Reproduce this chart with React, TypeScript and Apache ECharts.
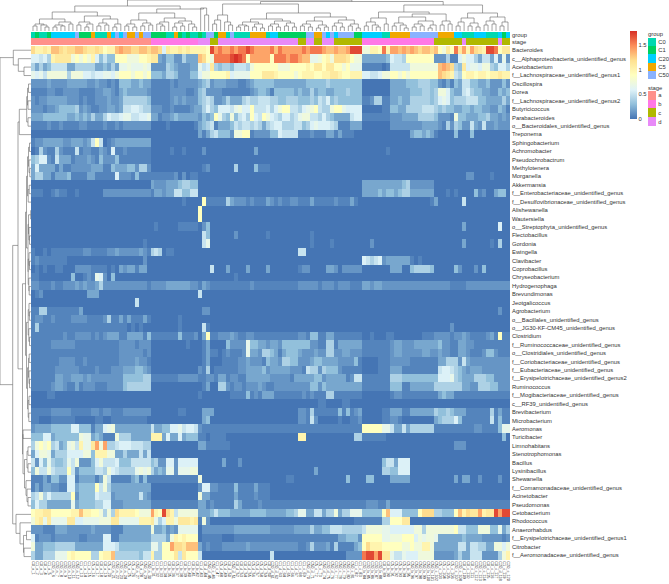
import React, { useEffect, useRef } from "react";
import * as echarts from "echarts";

const genera = [
  "Bacteroides","c__Alphaproteobacteria_unidentified_genus","Acetobacterium","f__Lachnospiraceae_unidentified_genus1","Oscillospira","Dorea","f__Lachnospiraceae_unidentified_genus2","Butyricicoccus","Parabacteroides","o__Bacteroidales_unidentified_genus","Treponema","Sphingobacterium","Achromobacter","Pseudochrobactrum","Methylotenera","Morganella","Akkermansia","f__Enterobacteriaceae_unidentified_genus","f__Desulfovibrionaceae_unidentified_genus","Alishewanella","Wautersiella","o__Streptophyta_unidentified_genus","Flectobacillus","Gordonia","Ewingella","Clavibacter","Coprobacillus","Chryseobacterium","Hydrogenophaga","Brevundimonas","Jeotgalicoccus","Agrobacterium","o__Bacillales_unidentified_genus","o__JG30-KF-CM45_unidentified_genus","Clostridium","f__Ruminococcaceae_unidentified_genus","o__Clostridiales_unidentified_genus","f__Coriobacteriaceae_unidentified_genus","f__Eubacteriaceae_unidentified_genus","f__Erysipelotrichaceae_unidentified_genus2","Ruminococcus","f__Mogibacteriaceae_unidentified_genus","c__RF39_unidentified_genus","Brevibacterium","Microbacterium","Aeromonas","Turicibacter","Limnohabitans","Stenotrophomonas","Bacillus","Lysinibacillus","Shewanella","f__Comamonadaceae_unidentified_genus","Acinetobacter","Pseudomonas","Cetobacterium","Rhodococcus","Anaerorhabdus","f__Erysipelotrichaceae_unidentified_genus1","Citrobacter","f__Aeromonadaceae_unidentified_genus",
];

// One string per genus; one character per sample (an abundance level, see levelValues), grouped in tens; "-" is ten zeros.
const abundanceRows = [
  "dbbcbeedcd deedccdcab befeeddeed eed7cbbcbc bbbbahfgff gfgghgffff gegfffffgf gggfeefeef hhh99bbagb ffefefedee dea9cagcfb fdcbhhgacc",
  "77675bcccc 9a9a9b7464 4aaa999aab cc32442253 33eda9gggg hihgafffff agggfggfee 889ab9dddc a993333334 7665aaaaaa a222511797 7536637282",
  "5353466663 3555553343 5388988898 2222543222 33867c5455 466659aaaa aa999aaaab accaccaa9a 8881111101 6666699999 99efed54c7 8879954775",
  "8786999995 9997767788 79aaa9aa9a 4443554222 44799aaaab 78888aaacc cbaaaa9abb baabbccbaa bbb7766799 aa9a9aaaaa aaedcb65ab babbabbcbb",
  "2222322223 3333223221 2144433433 1111121222 2234523332 2211234444 4333333334 4444544444 4440000000 3333444555 4421314366 4433422242",
  "1111221122 2211112233 2134333332 1111122221 1245222211 1111123443 1444443433 5344334445 4440000000 3333344455 4599743367 5443322434",
  "2122333332 2212112223 2235555554 1111123232 2245652235 3335655666 5544555444 5465745444 4441125511 3343355555 4578745556 6644333353",
  "2221223444 4523211223 3236677655 2221121111 2335754777 68977a6667 579aa66578 9a6559aa87 7770000011 4433555566 6545443344 3443322431",
  "3334444443 3434353357 6678866778 3312234333 332434a854 94675a76a9 7657756899 6657543333 6771111111 2223333555 5422219443 3344533232",
  "1111211211 1122111121 1212222222 0000100000 0134561333 4656656535 6775556645 7877765111 3330000000 2222222233 3321525422 6326223222",
  "- - - - 0031356444 299aa12222 4476666111 2111331311 1000000000 0000034434 3100004000 4000000000",
  "1223333322 333236a601 2333333333 - - - - - - - - -",
  "0152115211 1612211321 7112111111 0000010010 0002000000 0000003000 - - 0000000001 - - -",
  "4577216333 1222321422 2411111111 - - - - - - - - -",
  "3733331311 2222233311 4333442552 - 0001200000 0500004111 - - - - - -",
  "3553313334 1111331111 1722214111 1111112020 1100000000 - - - - - 0000000002 2000010000",
  "- - - 3222333455 4400000000 - - - 0003333333 3334522222 2000000000 -",
  "1110012110 0100000022 2222222222 1332336644 6600000000 - - - 0003333434 4345533333 3000101000 0412003440",
  "- - - 0000000010 000a111115 3222121113 2121122111 3111112111 3100000000 - 1300000060 -",
  "- - - - 00a0000000 - - - - - - -",
  "- - - - 00a0000000 - - - - - - -",
  "- - - 0100000111 1102400000 - - - - - 0000000030 0000000700",
  "- - - - 0006400000 0200000001 - 1000000000 - - - -",
  "- - 0000000010 - 0006800000 - - 1000010000 0000020000 - 0000000030 0000010500",
  "1001011111 1112211112 2322222321 5650110000 - - 0000000660 - - - - -",
  "1211111110 - 0000000020 - - - - - 0007656723 3333310100 - -",
  "0101001100 0222211110 1032331330 - 0000060003 0000300003 0000000122 0000332022 2220000000 3330045555 4000004200 0204000000",
  "1100000000 4001218720 4000000000 - - 0100000000 - - - - - -",
  "2211121122 2323223522 2222222221 2222333333 2213211111 1111121111 1111111222 2212221222 1113323322 2222222222 2222211112 2222222222",
  "0120000000 0000333000 - - 0060000000 - - - - - - -",
  "- - 0000006000 - - - - - - - - -",
  "1155111111 1130000000 - - 0002200000 - - - - - - 0000000200",
  "1221121111 2222111125 1131311131 0000000100 - - - - - - - -",
  "1511111111 1111111111 1111010100 0000000100 0006100000 - - - - - 0000020000 -",
  "1111111121 1222212123 3311333314 1111111411 1203a11222 3211221111 1111111221 4411331111 1110010001 1000000011 1222212232 1111231a11",
  "1111122222 2111111111 1122221222 0000000001 0001300004 2222844332 3324444444 2211551333 3331111111 2332223333 3342211332 2111111111",
  "1111111111 1111111111 1122222212 - 0001311012 1112833255 4313444322 2322552233 2221111111 2332222233 2232211332 1112442111",
  "1111111222 2112111111 1122223221 - 0001300011 1122322214 3325544222 3443333222 2410000111 2222211111 1133555263 2222222222",
  "1111112222 2211112111 2223334432 - 0021501111 1122333342 3333322216 5525444211 1110000111 3331111111 1167765432 3332222222",
  "1111113322 3332322222 2224444455 1111111222 2211221331 2211333333 2222213333 3442333331 2661111111 5554444444 4477785433 3555442222",
  "1111123321 1312221112 2224555555 - 0001300552 1221222321 1222222222 4424333333 3331111111 4441133333 3555555533 2255544222",
  "0000110000 - - - 0010000000 1111412133 3111111121 2111551111 1110000000 1221111111 1134331111 1111111111",
  "- - - - - - - 0011000011 - - - -",
  "1111122222 1111122122 1112222222 0000000110 0003330000 - 0000000221 5111111414 1230000011 3331133333 3544543331 1111151311",
  "1100011111 1000001100 1111111110 - 0003400000 - 0000000221 6200000100 1120000011 2210000000 0345557411 1111161411",
  "2333344444 7744413378 9333333333 6334477867 7621111111 1111111111 1111111111 1111111111 111aaaaa88 6336355555 5111111111 1221111488",
  "4447734444 4498834311 1955533333 bbb3733734 4411011110 - 0000000bb0 - 0551111110 - - 0000000040",
  "59a9a56348 96b88cf9f5 5677766655 - 0033111111 - - - - - 0000002220 -",
  "3799835557 777994bbb9 9335333636 - - - - - - - - -",
  "6274854458 6922247966 6744466666 4522772777 7700000030 0020000000 - - 0000000046 6377700000 - -",
  "496696555a 6244446659 7655558989 5343882888 9900000000 - - 0300000000 0000000055 4477700000 - -",
  "1113144227 7133331396 1111134141 1111111111 1190000000 - 0000110000 0000000004 0000440000 3333300000 0000003033 0020000200",
  "1313322117 734444a695 3333333333 - 0027722111 1411113111 - - - - - -",
  "5695755555 a244447666 2333333632 - 0093311111 1311112111 - - - - - -",
  "4755333333 8344445577 2223333333 1111111111 1133121111 1531111211 1111111111 1111111111 1111222113 1111111111 1111111111 1111111111",
  "abbccaaaaa bbebbaa959 5dbbbba999 fbahdb6999 9933346444 3333344443 3333445883 3663559355 88844444ae 7774444add d55444aebd ccfbcchfhh",
  "9bc8c8888c c778888999 cc88888bbb c857bb9ccc bc19200000 - - - 0111111155 aaacc00000 - -",
  "2221113332 2222232222 1113333333 9334232888 8802222222 2333333333 2222223333 5334466655 5556999988 7777779959 999999a664 4499944835",
  "7122212222 2211222277 1133333333 555539baba aa01111100 0111111111 1111111111 1111111334 442aaaaa88 999aaa7989 9833333343 3332222212",
  "9334445555 5333333377 7644444444 885aafddce ee31211122 2222322222 2222222112 5222315111 134adbbbaa aaa99a99bb 9333333663 6655339979",
  "533555888a baaaa55abb e555555466 b55aaac6ca aa60000000 - 6000000000 0000000002 222ghhfhcc 8668777999 9222223533 666222259b",
];

const levelValues = [0, 0.06, 0.13, 0.2, 0.3, 0.4, 0.5, 0.58, 0.66, 0.74, 0.89, 1.0, 1.1, 1.2, 1.3, 1.4, 1.55, 1.7, 1.78];

const groupNames = ["C0", "C1", "C20", "C5", "C50"];
const stageNames = ["a", "b", "c", "d"];
// [category index, run length] pairs, left to right
const groupRuns = [[0,1],[1,1],[0,2],[1,1],[2,6],[4,1],[1,3],[3,1],[0,3],[3,1],[2,1],[4,1],[2,1],[4,1],[3,2],[4,1],[3,1],[4,2],[1,4],[0,2],[3,1],[1,1],[0,1],[1,1],[0,2],[1,1],[0,1],[4,2],[1,1],[3,2],[0,1],[4,1],[0,4],[3,4],[0,1],[2,2],[1,7],[4,2],[3,2],[4,1],[2,1],[4,1],[2,1],[4,4],[1,2],[2,5],[0,2],[3,5],[4,7],[3,4],[2,2],[0,3],[2,3],[0,3],[2,1],[1,1],[2,1]];
const stageRuns = [[0,30],[1,12],[3,3],[2,2],[3,20],[2,2],[3,2],[2,2],[3,3],[2,7],[1,18],[2,7],[3,1],[2,8],[3,1],[2,2]];

// Dendrograms: [merge height, left, right]; 1 is a leaf.
const colTree: any = [31,
  [25,
    [19,
      [12,[7,[5,1,1],[6,1,[4,1,1]]],[9,[6,[4,1,1],[5,1,1]],[7,1,1]]],
      [15,[9,[6,1,1],[7,[4,1,1],1]],[12,[8,[5,1,1],[6,1,1]],[7,[4,1,1],1]]]],
    [22,
      [18,
        [11,[7,[5,1,1],[4,1,1]],[8,[5,1,1],[6,1,1]]],
        [13,[9,[7,1,[5,1,1]],1],[10,[8,[4,1,1],[5,1,1]],[7,1,[4,1,1]]]]],
      [23,1,[16,1,1]]]],
  [29.5,
    [27,
      [16,[11,[7,1,1],1],[9,1,[6,1,1]]],
      [18,
        [12,[9,[6,[4,1,1],[5,1,1]],[7,[4,1,1],[3,1,1]]],[10,[7,[5,1,1],[4,1,1]],[8,[5,1,1],[4,1,1]]]],
        [14,[10,[7,[5,1,1],[4,1,1]],[6,[3,1,1],[4,1,1]]],[11,[8,[5,1,1],[4,1,1]],[7,[5,1,1],[3,1,1]]]]]],
    [26,
      [19,
        [13,[9,[5,1,1],[6,1,[4,1,1]]],[7,1,1]],
        [17,
          [14,[8,[5,1,1],[6,1,[3,1,1]]],[10,[7,[4,1,1],[5,1,1]],[6,[3,1,1],1]]],
          [10,[6,1,1],[7,1,1]]]],
      [18,[13,[9,[5,1,1],1],[8,[5,1,1],[4,1,1]]],[14,[10,[6,1,1],[7,1,1]],[9,[5,1,1],1]]]]],
];
const rowTree: any = [31,
  [17.7,1,[12.7,1,[7,1,1]]],
  [18.3,
    [13,
      [11.7,[4.3,[3.5,[2.5,1,1],[3,1,1]],[3,1,1]],1],
      [8.5,
        [5.5,
          [4.5,
            [3.5,[2.5,[1.5,1,1],[2,1,[1.2,1,1]]],[2.8,[1.8,1,1],1]],
            [3,[2.5,[0.3,1,1],[2,1,[1.5,1,1]]],[2.8,[2,1,[1.5,1,1]],[2.2,1,[1.8,1,1]]]]],
          [4.5,
            [2.8,[2,1,[1.6,1,1]],[2.2,1,[1.5,1,1]]],
            [3.5,[2.5,[1.8,1,1],[2,1,[1.5,1,1]]],[2.8,[2,1,1],[2.2,1,1]]]]],
        [8,
          [8,1,1],
          [6.5,[4,[3,1,1],[3,1,1]],[5,1,[4,1,[3,1,1]]]]]]],
    [15,1,[11,1,[7.5,[4.5,1,1],[7,1,1]]]]],
];

const colorStops = ["#4575B4", "#91BFDB", "#E0F3F8", "#FFFFBF", "#FEE090", "#FC8D59", "#D73027"];
const groupColors = ["#00D8B0", "#00D060", "#00CFFF", "#F0A800", "#89B2FF"];
const stageColors = ["#FF918A", "#FF78E6", "#B0B800", "#E88AF8"];
const scaleTicks = [0, 0.5, 1, 1.5];
const VALUE_MAX = 1.78;

const G = { left: 31, right: 510, top: 46, bottom: 560.8 };
const FONT = "'Liberation Sans', Arial, sans-serif";
const LABEL_SIZE = 5.85;
const TEXT_COLOR = "#333";

function expandRuns(runs: number[][]) {
  const out: number[] = [];
  runs.forEach(([v, n]) => { for (let i = 0; i < n; i++) out.push(v); });
  return out;
}
function parseRow(row: string) {
  const out: number[] = [];
  row.split(" ").forEach((b) => {
    const block = b === "-" ? "0000000000" : b.padEnd(10, "0").slice(0, 10);
    for (const ch of block) out.push(levelValues[parseInt(ch, 36)]);
  });
  return out;
}
function dendroLines(tree: any, step: number, place: (along: number, h: number) => number[]) {
  const segs: number[][][] = [];
  let leaf = 0;
  const walk = (n: any): { pos: number; h: number } => {
    if (n === 1) { leaf += 1; return { pos: (leaf - 0.5) * step, h: 0 }; }
    const a = walk(n[1]);
    const b = walk(n[2]);
    segs.push([place(a.pos, a.h), place(a.pos, n[0]), place(b.pos, n[0]), place(b.pos, b.h)]);
    return { pos: (a.pos + b.pos) / 2, h: n[0] };
  };
  walk(tree);
  return segs;
}

export default function App() {
  const ref = useRef<HTMLDivElement>(null);
  useEffect(() => {
    document.body.style.margin = "0";
    const chart = echarts.init(ref.current!, undefined, { renderer: "svg" });

    const groups = expandRuns(groupRuns);
    const stages = expandRuns(stageRuns);
    const sampleNames = groups.map((g, i) => `${groupNames[g]}_${stageNames[stages[i]]}_${i + 1}`);
    const matrix = abundanceRows.map(parseRow);
    const cells: number[][] = [];
    matrix.forEach((row, y) => row.forEach((v, x) => cells.push([x, y, v])));

    const cw = (G.right - G.left) / 120;
    const ch = (G.bottom - G.top) / genera.length;
    const line = (points: number[][]) => ({
      type: "polyline", silent: true, shape: { points },
      style: { stroke: "#666", fill: "none", lineWidth: 0.6 },
    });
    const topLines = dendroLines(colTree, cw, (p, h) => [G.left + p, 31 - h]).map(line);
    const leftLines = dendroLines(rowTree, ch, (p, h) => [31 - h, G.top + p]).map(line);

    const txt = (x: number, y: number, text: string) => ({
      type: "text", silent: true, x, y,
      style: { text, fill: TEXT_COLOR, font: `${LABEL_SIZE}px ${FONT}`, textVerticalAlign: "middle", textBaseline: "middle" },
    });
    const swatch = (x: number, y: number, w: number, h: number, fill: string) => ({
      type: "rect", silent: true, shape: { x, y, width: w, height: h }, style: { fill },
    });
    const legend: any[] = [
      {
        type: "rect", silent: true, shape: { x: 630, y: 31, width: 6.5, height: 88 },
        style: {
          fill: new echarts.graphic.LinearGradient(0, 1, 0, 0,
            colorStops.map((color, i) => ({ offset: i / (colorStops.length - 1), color }))),
        },
      },
      ...scaleTicks.map((t) => txt(638.5, 119 - (t / VALUE_MAX) * 88, String(t))),
      txt(648, 33.5, "group"),
      ...groupNames.map((n, i) => swatch(648, 37.7 + i * 8.3, 8, 8.3, groupColors[i])),
      ...groupNames.map((n, i) => txt(658.3, 41.9 + i * 8.3, n)),
      txt(648, 87.5, "stage"),
      ...stageNames.map((n, i) => swatch(648, 91 + i * 8.7, 8, 8.7, stageColors[i])),
      ...stageNames.map((n, i) => txt(658.3, 95.4 + i * 8.7, n)),
    ];

    const annotationAxis = (gridIndex: number) => ({
      type: "category", gridIndex, data: sampleNames, show: false,
    });
    const annotationY = (gridIndex: number, name: string) => ({
      type: "category", gridIndex, data: [name], position: "right",
      axisLine: { show: false }, axisTick: { show: false }, splitLine: { show: false }, splitArea: { show: false },
      axisLabel: { fontSize: LABEL_SIZE, fontFamily: FONT, color: TEXT_COLOR, margin: 2 },
    });

    chart.setOption({
      animation: false,
      backgroundColor: "#fff",
      grid: [
        { left: G.left, top: G.top, width: G.right - G.left, height: G.bottom - G.top },
        { left: G.left, top: 32, width: G.right - G.left, height: 5.7 },
        { left: G.left, top: 38.7, width: G.right - G.left, height: 6 },
      ],
      xAxis: [
        {
          type: "category", gridIndex: 0, data: sampleNames, position: "bottom",
          axisLine: { show: false }, axisTick: { show: false }, splitLine: { show: false }, splitArea: { show: false },
          axisLabel: { interval: 0, rotate: -90, fontSize: 3.8, fontFamily: FONT, color: TEXT_COLOR, margin: 2, hideOverlap: false },
        },
        annotationAxis(1),
        annotationAxis(2),
      ],
      yAxis: [
        {
          type: "category", gridIndex: 0, data: genera, inverse: true, position: "right",
          axisLine: { show: false }, axisTick: { show: false }, splitLine: { show: false }, splitArea: { show: false },
          axisLabel: { interval: 0, fontSize: LABEL_SIZE, fontFamily: FONT, color: TEXT_COLOR, margin: 2 },
        },
        annotationY(1, "group"),
        annotationY(2, "stage"),
      ],
      visualMap: [
        {
          type: "continuous", seriesIndex: 0, dimension: 2, min: 0, max: VALUE_MAX, show: false,
          inRange: { color: colorStops },
        },
        {
          type: "piecewise", seriesIndex: 1, dimension: 2, show: false,
          pieces: groupColors.map((color, i) => ({ value: i, color })),
        },
        {
          type: "piecewise", seriesIndex: 2, dimension: 2, show: false,
          pieces: stageColors.map((color, i) => ({ value: i, color })),
        },
      ],
      series: [
        { type: "heatmap", xAxisIndex: 0, yAxisIndex: 0, data: cells, progressive: 0, silent: true, itemStyle: { borderWidth: 0 } },
        { type: "heatmap", xAxisIndex: 1, yAxisIndex: 1, data: groups.map((g, i) => [i, 0, g]), progressive: 0, silent: true },
        { type: "heatmap", xAxisIndex: 2, yAxisIndex: 2, data: stages.map((s, i) => [i, 0, s]), progressive: 0, silent: true },
      ],
      graphic: { elements: [...topLines, ...leftLines, ...legend] },
    });
    return () => chart.dispose();
  }, []);
  return (
    <>
      <style>{`svg path:not([fill="none"]) { shape-rendering: crispEdges; }`}</style>
      <div ref={ref} style={{ width: 669, height: 584, overflow: "hidden" }} />
    </>
  );
}
